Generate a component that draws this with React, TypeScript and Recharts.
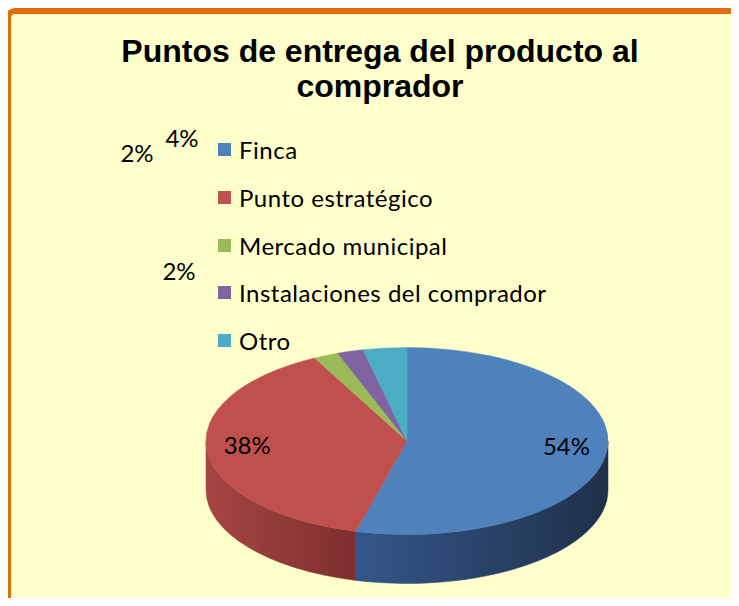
import React from 'react';
import { PieChart, Pie, Legend } from 'recharts';

// delivery points, share of answers (%)
const categories = ['Finca', 'Punto estratégico', 'Mercado municipal', 'Instalaciones del comprador', 'Otro'];
const shares = [54.1, 38.3, 2.0, 2.1, 3.5];

const topColors = ['#4F81BD', '#C0504D', '#9BBB59', '#8064A2', '#4BACC6'];
const sideColors = [
  ['#33578A', '#1F3049'],
  ['#A64644', '#7B2F2E'],
  ['#7A9440', '#5E7331'],
  ['#634C80', '#4B3961'],
  ['#3A899E', '#2C6879'],
];

const data = categories.map((name, i) => ({ name, value: shares[i], fill: topColors[i] }));

const RY_RATIO = 0.465;
const DEPTH = 49;
const LABEL_FONT = 'Lato, "Open Sans", sans-serif';

// Excel had the small labels dragged away from their slices
const movedLabels: Record<number, [number, number]> = {
  2: [179, 270],
  3: [137, 152],
  4: [182, 137],
};

const Slice3D = (props: any) => {
  const { cx, cy, outerRadius, startAngle, endAngle, fill } = props;
  const name = props.name ?? props.payload?.name;
  const idx = Math.max(0, categories.indexOf(name));
  const rx = outerRadius;
  const ry = outerRadius * RY_RATIO;
  const pt = (deg: number, dy = 0) => {
    const t = (deg * Math.PI) / 180;
    return `${cx + rx * Math.cos(t)},${cy - ry * Math.sin(t) + dy}`;
  };

  const lo = Math.min(startAngle, endAngle);
  const hi = Math.max(startAngle, endAngle);
  const sides: string[] = [];
  for (let k = -2; k <= 1; k++) {
    const a = Math.max(lo, -180 + 360 * k);
    const b = Math.min(hi, 360 * k);
    if (a < b) {
      sides.push(
        `M${pt(b)} A${rx},${ry} 0 0 1 ${pt(a)} L${pt(a, DEPTH)} A${rx},${ry} 0 0 0 ${pt(b, DEPTH)} Z`
      );
    }
  }
  const large = hi - lo > 180 ? 1 : 0;
  const sweep = startAngle > endAngle ? 1 : 0;
  const top = `M${cx},${cy} L${pt(startAngle)} A${rx},${ry} 0 ${large} ${sweep} ${pt(endAngle)} Z`;
  const gid = `side-grad-${idx}`;

  return (
    <g>
      <defs>
        <linearGradient id={gid} x1="0" y1="0" x2="1" y2="0">
          <stop offset="0%" stopColor={sideColors[idx][0]} />
          <stop offset="100%" stopColor={sideColors[idx][1]} />
        </linearGradient>
      </defs>
      {sides.map((d, i) => (
        <path key={i} d={d} fill={`url(#${gid})`} stroke={`url(#${gid})`} strokeWidth={0.5} />
      ))}
      <path d={top} fill={fill} stroke={fill} strokeWidth={0.5} />
    </g>
  );
};

const renderLabel = (props: any) => {
  const { cx, cy, midAngle, outerRadius, index, percent } = props;
  let x: number;
  let y: number;
  if (movedLabels[index]) {
    [x, y] = movedLabels[index];
  } else {
    const t = (midAngle * Math.PI) / 180;
    x = cx + outerRadius * 0.8 * Math.cos(t);
    y = cy - outerRadius * RY_RATIO * 0.8 * Math.sin(t) - 5;
  }
  return (
    <text x={x} y={y} textAnchor="middle" dominantBaseline="central" fill="#000" fontSize={24} fontFamily={LABEL_FONT}>
      {`${Math.round(percent * 100)}%`}
    </text>
  );
};

const LegendList = () => (
  <div style={{ fontFamily: LABEL_FONT, fontSize: 24, letterSpacing: 0.5, color: '#000' }}>
    {data.map((d) => (
      <div key={d.name} style={{ display: 'flex', alignItems: 'center', height: 47.7, whiteSpace: 'nowrap' }}>
        <span style={{ width: 13, height: 13, background: d.fill, marginRight: 8, display: 'inline-block' }} />
        <span>{d.name}</span>
      </div>
    ))}
  </div>
);

export default function App() {
  return (
    <div style={{ position: 'relative', width: 739, height: 606, margin: -8, overflow: 'hidden', background: '#fff' }}>
      <div
        style={{
          position: 'absolute',
          left: 5,
          top: 8,
          width: 800,
          height: 700,
          border: '6px solid #E46C0A',
          borderRadius: 10,
          background: '#FFFFCC',
        }}
      />
      <div
        style={{
          position: 'absolute',
          left: 0,
          top: 34,
          width: 760,
          textAlign: 'center',
          fontFamily: '"Liberation Sans", Arial, sans-serif',
          fontWeight: 'bold',
          fontSize: 32,
          lineHeight: '35px',
          color: '#000',
        }}
      >
        Puntos de entrega del producto al
        <br />
        comprador
      </div>
      <div style={{ position: 'absolute', left: 0, top: 0 }}>
        <PieChart width={739} height={606} margin={{ top: 0, right: 0, bottom: 0, left: 0 }}>
          <Legend
            layout="vertical"
            align="right"
            verticalAlign="top"
            content={<LegendList />}
            wrapperStyle={{ left: 218, top: 126, right: 'auto', width: 'auto' }}
          />
          <Pie
            data={data}
            dataKey="value"
            nameKey="name"
            cx={407}
            cy={441}
            outerRadius={201}
            startAngle={90}
            endAngle={-270}
            stroke="none"
            isAnimationActive={false}
            labelLine={false}
            label={renderLabel}
            shape={Slice3D}
            inactiveShape={Slice3D}
            activeShape={Slice3D}
          />
        </PieChart>
      </div>
    </div>
  );
}
